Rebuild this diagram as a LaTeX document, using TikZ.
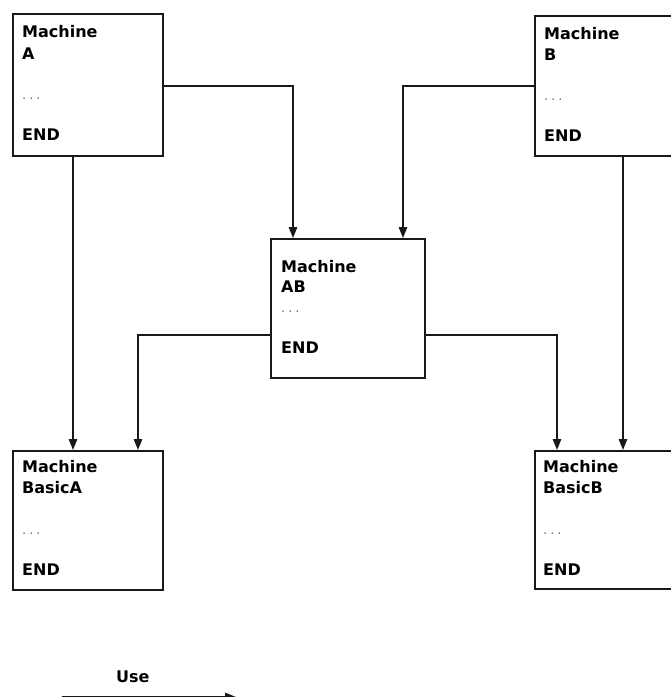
\documentclass[tikz,border=0pt]{standalone}
\usepackage{fontspec}
\setmainfont{DejaVu Sans}
\usetikzlibrary{arrows.meta}
\begin{document}
\begin{tikzpicture}[x=1pt,y=-1pt,
  machinebox/.style={draw=black!90, line width=1.7pt, rectangle, inner sep=0pt,
    minimum width=150pt, anchor=north west},
  label/.style={anchor=base west, inner sep=0pt, font=\fontsize{16}{18}\selectfont\bfseries, text=black},
  dots/.style={anchor=base west, inner sep=0pt, font=\fontsize{13}{15}\selectfont, text=black!55},
  conn/.style={draw=black!90, line width=1.4pt, -{Triangle[length=11pt,width=8.5pt]}}]
\useasboundingbox (0,0) rectangle (671,697);
\clip (0,0) rectangle (671,697);

% machine boxes
\node[machinebox, minimum height=142pt] (A) at (12,13) {};
\node[machinebox, minimum height=140pt] (B) at (534,15) {};
\node[machinebox, minimum width=154pt, minimum height=139pt] (AB) at (270,238) {};
\node[machinebox, minimum height=139pt] (BA) at (12,450) {};
\node[machinebox, minimum height=138pt] (BB) at (534,450) {};

% box contents
\newcommand{\elide}{.\hspace{3pt}.\hspace{3pt}.}
\node[label] (ta1) at (22,37) {Machine};
\node[label] (ta2) at (22,59) {A};
\node[dots]  (ta3) at (22,99) {\elide};
\node[label] (ta4) at (22,140) {END};

\node[label] (tb1) at (544,39) {Machine};
\node[label] (tb2) at (544,60) {B};
\node[dots]  (tb3) at (544,100) {\elide};
\node[label] (tb4) at (544,141) {END};

\node[label] (tab1) at (281,272) {Machine};
\node[label] (tab2) at (281,292) {AB};
\node[dots]  (tab3) at (281,312) {\elide};
\node[label] (tab4) at (281,353) {END};

\node[label] (tba1) at (22,472) {Machine};
\node[label] (tba2) at (22,493) {BasicA};
\node[dots]  (tba3) at (22,534) {\elide};
\node[label] (tba4) at (22,575) {END};

\node[label] (tbb1) at (543,472) {Machine};
\node[label] (tbb2) at (543,493) {BasicB};
\node[dots]  (tbb3) at (543,534) {\elide};
\node[label] (tbb4) at (543,575) {END};

% connectors
\draw[conn] (A.east |- 0,86) -| (AB.north -| 293,0);
\draw[conn] (B.west |- 0,86) -| (AB.north -| 403,0);
\draw[conn] (A.south -| 73,0) -- (BA.north -| 73,0);
\draw[conn] (B.south -| 623,0) -- (BB.north -| 623,0);
\draw[conn] (AB.west |- 0,335) -| (BA.north -| 138,0);
\draw[conn] (AB.east |- 0,335) -| (BB.north -| 557,0);

% legend
\coordinate (ls) at (62,697);
\coordinate (le) at (236,697);
\draw[conn] (ls) -- (le);
\node[label] (use) at (116,682) {Use};
\end{tikzpicture}
\end{document}
